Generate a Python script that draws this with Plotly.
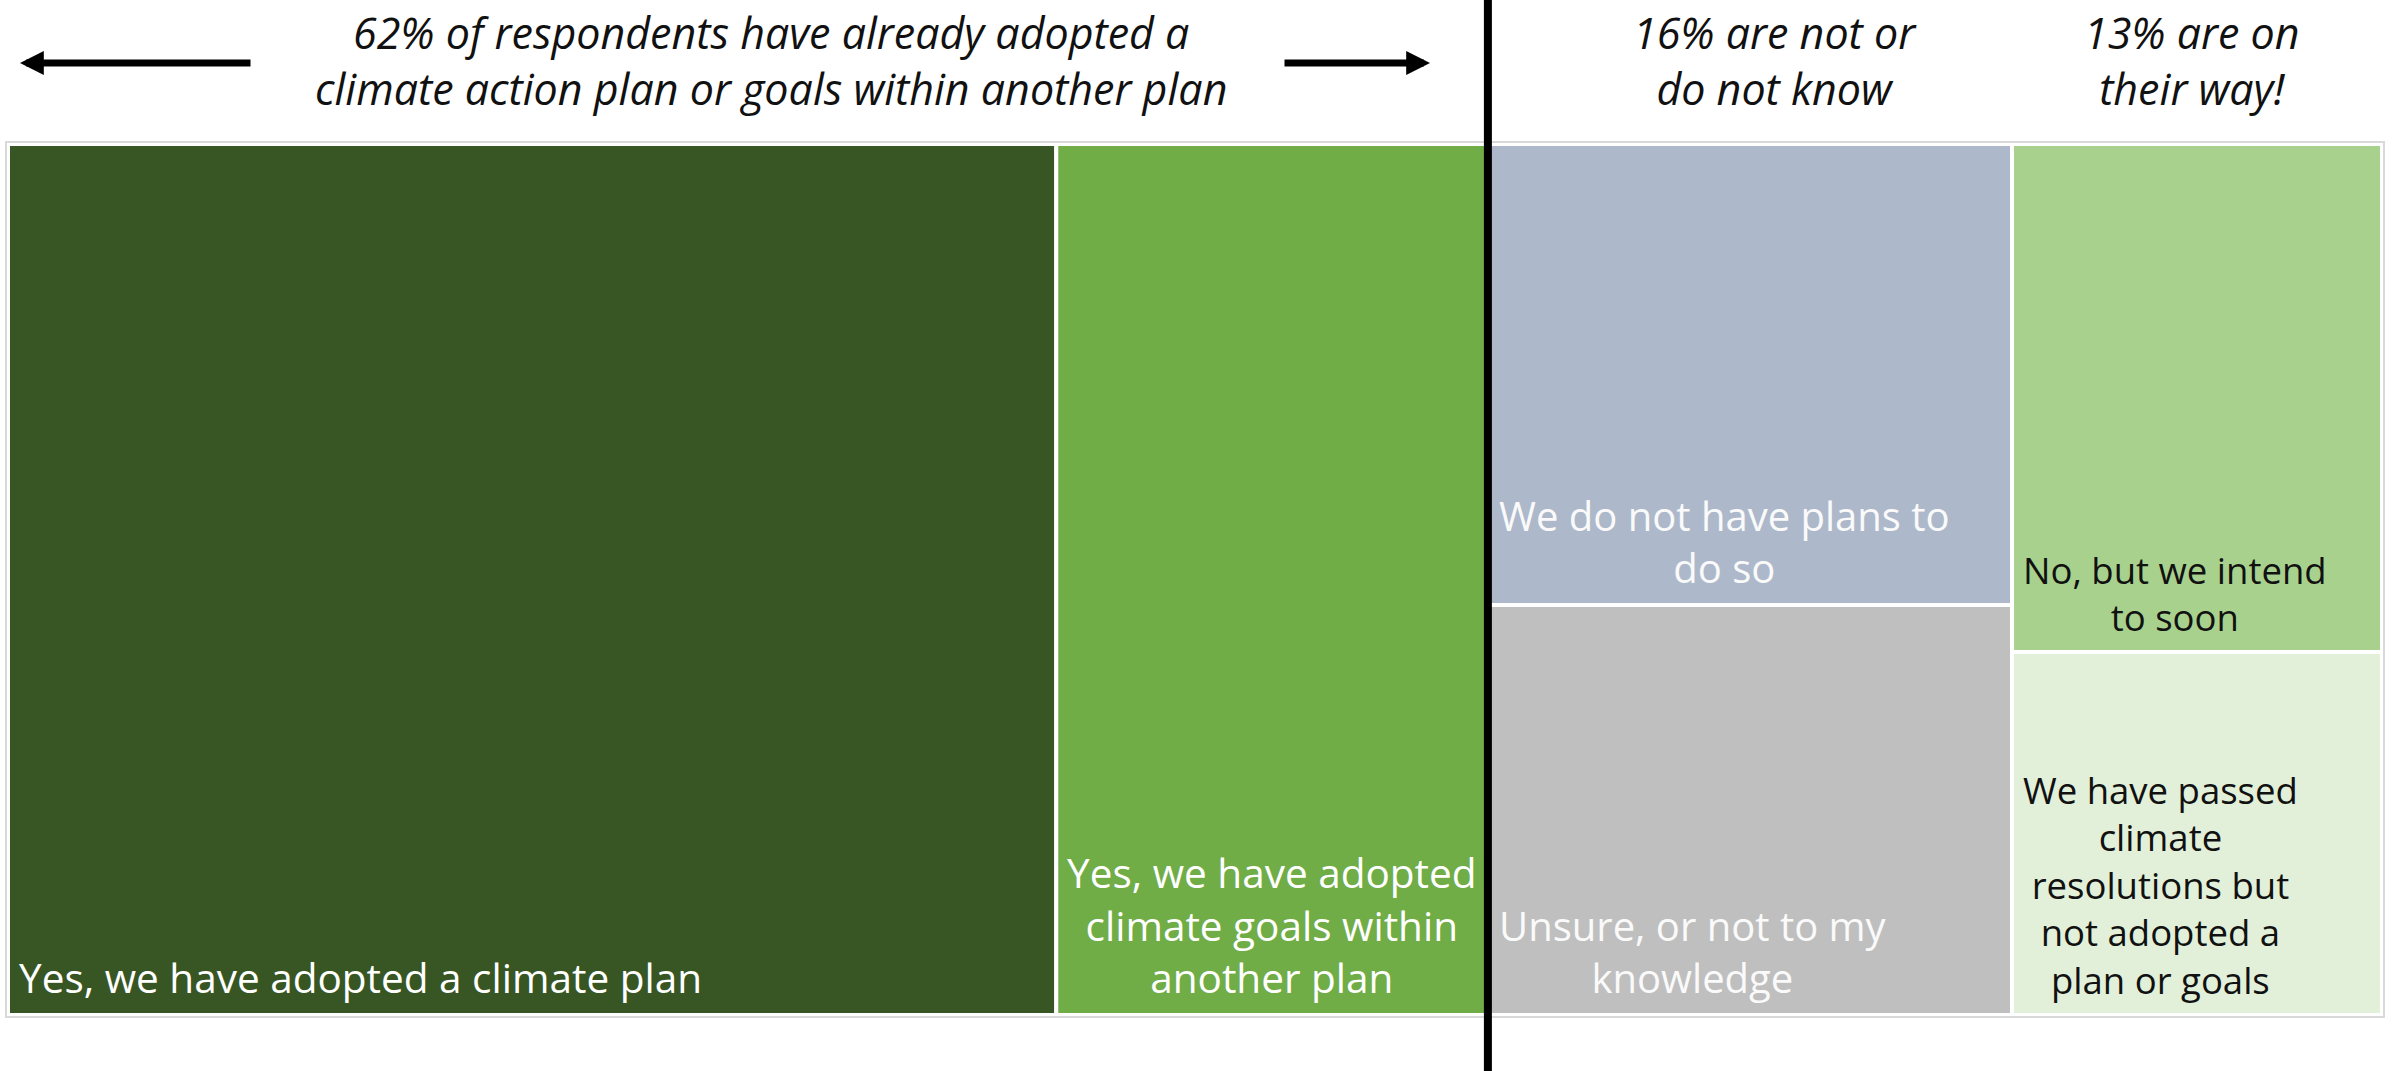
import plotly.graph_objects as go

# ---------------- data ----------------
groups = ["adopted_plan", "adopted_goals", "not_or_unknown", "on_their_way"]
categories = [
    "Yes, we have adopted a climate plan",
    "Yes, we have adopted climate goals within another plan",
    "We do not have plans to do so",
    "Unsure, or not to my knowledge",
    "No, but we intend to soon",
    "We have passed climate resolutions but not adopted a plan or goals",
]
cell_labels = [
    "Yes, we have adopted a climate plan",
    "Yes, we have adopted<br>climate goals within<br>another plan",
    "We do not have plans to<br>do so",
    "Unsure, or not to my<br>knowledge",
    "No, but we intend<br>to soon",
    "We have passed<br>climate<br>resolutions but<br>not adopted a<br>plan or goals",
]
category_group = [0, 1, 2, 2, 3, 3]
values = [44.2, 18.2, 11.7, 10.4, 9.1, 6.5]  # share of treemap area (%)

header_texts = [
    "62% of respondents have already adopted a<br>climate action plan or goals within another plan",
    "16% are not or<br>do not know",
    "13% are on<br>their way!",
]

# ---------------- styles ----------------
fill_colors = ["#375623", "#70AD47", "#ADB9CA", "#BFBFBF", "#A9D18E", "#E2F0D9"]
text_colors = ["#FFFFFF", "#FFFFFF", "#FAFAFA", "#FAFAFA", "#111111", "#111111"]
text_sizes = [40.5, 40.5, 40, 40, 36.5, 36.5]
W, H = 2395, 1071
LABEL_FONT = "Open Sans"
HEADER_FONT = "Open Sans"

# ---------------- slice-dice layout computed from values ----------------
group_tot = [sum(v for v, g in zip(values, category_group) if g == gi) for gi in range(len(groups))]
group_x0 = []
acc = 0.0
for t in group_tot:
    group_x0.append(acc)
    acc += t
total = acc

rects = []
used = [0.0] * len(groups)
for v, g in zip(values, category_group):
    x0 = group_x0[g]
    x1 = x0 + group_tot[g]
    y1 = 1 - used[g] / group_tot[g]
    y0 = y1 - v / group_tot[g]
    used[g] += v
    rects.append((x0, x1, max(0.0, round(y0, 9)), min(1.0, round(y1, 9))))

fig = go.Figure()
for (x0, x1, y0, y1), name, col in zip(rects, categories, fill_colors):
    fig.add_trace(go.Scatter(
        x=[x0, x1, x1, x0, x0], y=[y0, y0, y1, y1, y0],
        mode="lines", fill="toself", fillcolor=col,
        line=dict(color="white", width=4),
        name=name, hoverinfo="name", showlegend=False,
    ))

annotations = []
for (x0, x1, y0, y1), lab, tc, ts in zip(rects, cell_labels, text_colors, text_sizes):
    annotations.append(dict(
        x=x0, y=y0, xref="x", yref="y", text=lab, showarrow=False,
        xanchor="left", yanchor="bottom", align="center",
        xshift=9, yshift=8,
        font=dict(family=LABEL_FONT, size=ts, color=tc),
    ))

# header texts
header_x = [771, 1775, 2192]
for hx, ht in zip(header_x, header_texts):
    annotations.append(dict(
        x=hx / W, y=1 - 60 / H, xref="paper", yref="paper", text=ht,
        showarrow=False, xanchor="center", yanchor="middle", align="center",
        font=dict(family=HEADER_FONT, size=43, color="#111111", style="italic"),
    ))

# arrows
for tip, tail in [(20, 252), (1430, 1283)]:
    annotations.append(dict(
        x=tip / W, y=1 - 63 / H, xref="paper", yref="paper", text="",
        showarrow=True, ax=tail - tip, ay=0, axref="pixel", ayref="pixel",
        arrowhead=2, arrowsize=0.68, arrowwidth=7, arrowcolor="#000000",
        standoff=0, startstandoff=0,
    ))

split_x = group_tot[0] + group_tot[1]
shapes = [
    dict(type="rect", xref="paper", yref="paper",
         x0=6 / W, x1=2384 / W, y0=1 - 1017 / H, y1=1 - 142 / H,
         line=dict(color="#D9D9D9", width=2), fillcolor="rgba(0,0,0,0)", layer="below"),
    dict(type="line", xref="x", yref="paper", x0=split_x, x1=split_x, y0=0, y1=1,
         line=dict(color="#000000", width=8), layer="above"),
]

fig.update_layout(
    width=W, height=H,
    margin=dict(l=0, r=0, t=0, b=0),
    paper_bgcolor="white", plot_bgcolor="white",
    xaxis=dict(range=[0, total], domain=[8 / W, 2382 / W], visible=False, fixedrange=True),
    yaxis=dict(range=[0, 1], domain=[1 - 1015 / H, 1 - 144 / H], visible=False, fixedrange=True),
    annotations=annotations, shapes=shapes,
    showlegend=False,
)

fig.write_html(
    "out.html",
    config={"displayModeBar": False},
    post_script="document.body.style.margin='0px';document.body.style.overflow='hidden';",
)
